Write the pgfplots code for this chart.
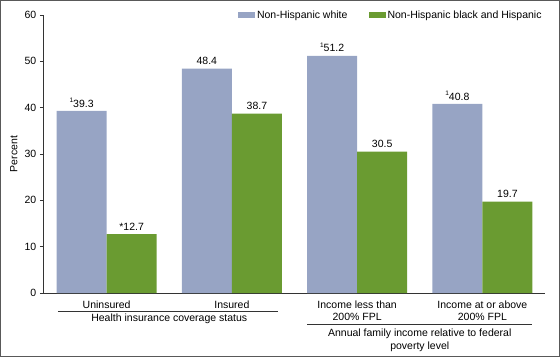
\documentclass[border=0pt]{standalone}
\usepackage{pgfplots}
\pgfplotsset{compat=1.18}
\usepackage{fontspec}
\setmainfont{Liberation Sans}
\definecolor{cwhite}{RGB}{151,164,196}
\definecolor{cgreen}{RGB}{106,155,49}
\definecolor{axisgray}{RGB}{51,51,51}
\newcommand{\fn}[1]{\raisebox{0.85ex}{\fontsize{6.5}{6.5}\selectfont #1}}
\begin{document}
\fontsize{10.5}{12.5}\selectfont
\begin{tikzpicture}[x=1pt,y=1pt]
\path[use as bounding box] (0,0) rectangle (560,357);
\draw[black!65, line width=1pt] (0.5,0.5) rectangle (559.5,356.5);
\begin{axis}[
  at={(44pt,64pt)}, anchor=south west,
  scale only axis, width=501pt, height=278pt,
  ybar, bar width=0.4,
  xmin=-0.5, xmax=3.5, ymin=0, ymax=60,
  ytick={0,10,...,60},
  xtick={0,1,2,3},
  xticklabels={Uninsured, Insured, {Income less than\\200\% FPL}, {Income at or above\\200\% FPL}},
  axis x line=bottom, axis y line=left,
  axis line style={-, axisgray, line width=1pt},
  tick align=outside, major tick length=4pt,
  ytick style={axisgray, line width=0.8pt},
  xtick style={draw=none},
  /pgf/number format/assume math mode=true,
  ticklabel style={font=\fontsize{10.5}{12.5}\selectfont},
  xticklabel style={align=center, anchor=north},
  ylabel={Percent},
  ylabel style={font=\fontsize{10.5}{12.5}\selectfont},
  clip=false,
  nodes near coords, point meta=explicit symbolic,
  every node near coord/.append style={font=\fontsize{10.5}{12.5}\selectfont, text=black},
  legend style={at={(rel axis cs:0.381,1)}, anchor=west, draw=none, fill=none,
    legend columns=2, font=\fontsize{10.5}{12.5}\selectfont,
    /tikz/every even column/.append style={column sep=19pt}},
  legend image code/.code={\fill[#1] (0pt,-3pt) rectangle (17pt,3pt);},
]
\addplot[fill=cwhite, draw=none, bar shift=-0.2] coordinates {(0,39.3) [\fn{1}39.3] (1,48.4) [48.4] (2,51.2) [\fn{1}51.2] (3,40.8) [\fn{1}40.8]};
\addplot[fill=cgreen, draw=none, bar shift=0.2] coordinates {(0,12.7) [*12.7] (1,38.7) [38.7] (2,30.5) [30.5] (3,19.7) [19.7]};
\legend{Non-Hispanic white, Non-Hispanic black and Hispanic}
\draw[axisgray, line width=0.8pt] ([yshift=-18pt]axis cs:-0.39,0) -- ([yshift=-18pt]axis cs:1.37,0);
\node[anchor=center] at ([yshift=-25.5pt]axis cs:0.5,0) {Health insurance coverage status};
\draw[axisgray, line width=0.8pt] ([yshift=-31pt]axis cs:1.6,0) -- ([yshift=-31pt]axis cs:3.4,0);
\node[anchor=center, align=center] at ([yshift=-47.5pt]axis cs:2.5,0) {Annual family income relative to federal\\poverty level};
\end{axis}
\end{tikzpicture}
\end{document}
